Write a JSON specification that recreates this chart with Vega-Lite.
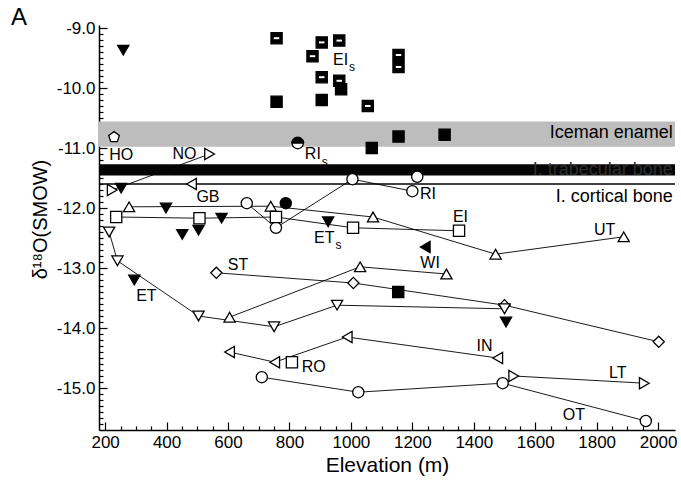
{
  "$schema": "https://vega.github.io/schema/vega-lite/v6.json",
  "width": 576,
  "height": 405,
  "autosize": {"type": "none"},
  "padding": {"left": 99, "top": 25, "right": 6, "bottom": 52},
  "background": "white",
  "config": {
    "view": {"stroke": null},
    "font": "Liberation Sans",
    "axis": {"labelFont": "Liberation Sans", "titleFont": "Liberation Sans"}
  },
  "title": {
    "text": "A", "anchor": "start", "frame": "group", "fontSize": 24,
    "fontWeight": "normal", "font": "Liberation Sans", "color": "black",
    "dx": -88, "offset": -9, "dy": 21, "baseline": "alphabetic"
  },
  "datasets": {
    "bands": [
      {"band": "enamel", "x": 180, "x2": 2055, "y": -10.98, "y2": -10.56},
      {"band": "trabecular", "x": 180, "x2": 2055, "y": -11.46, "y2": -11.27}
    ],
    "rules": [{"name": "cortical", "x": 180, "x2": 2055, "y": -11.6}],
    "pts": [
      {"site": "NO", "sym": "right", "fill": "open", "x": 223, "y": -11.70},
      {"site": "NO", "sym": "right", "fill": "open", "x": 540, "y": -11.10},
      {"site": "RI", "sym": "circle", "fill": "open", "x": 661, "y": -11.92},
      {"site": "RI", "sym": "circle", "fill": "open", "x": 756, "y": -12.33},
      {"site": "RI", "sym": "circle", "fill": "open", "x": 1005, "y": -11.52},
      {"site": "RI", "sym": "circle", "fill": "open", "x": 1200, "y": -11.72},
      {"site": "UT", "sym": "up", "fill": "open", "x": 278, "y": -11.98},
      {"site": "UT", "sym": "up", "fill": "open", "x": 739, "y": -11.97},
      {"site": "UT", "sym": "up", "fill": "open", "x": 1072, "y": -12.15},
      {"site": "UT", "sym": "up", "fill": "open", "x": 1471, "y": -12.77},
      {"site": "UT", "sym": "up", "fill": "open", "x": 1888, "y": -12.48},
      {"site": "EI", "sym": "square", "fill": "open", "x": 236, "y": -12.15},
      {"site": "EI", "sym": "square", "fill": "open", "x": 507, "y": -12.17},
      {"site": "EI", "sym": "square", "fill": "open", "x": 756, "y": -12.15},
      {"site": "EI", "sym": "square", "fill": "open", "x": 1007, "y": -12.33},
      {"site": "EI", "sym": "square", "fill": "open", "x": 1352, "y": -12.38},
      {"site": "WI", "sym": "up", "fill": "open", "x": 605, "y": -13.82},
      {"site": "WI", "sym": "up", "fill": "open", "x": 1030, "y": -12.98},
      {"site": "WI", "sym": "up", "fill": "open", "x": 1311, "y": -13.10},
      {"site": "ST", "sym": "diamond", "fill": "open", "x": 562, "y": -13.08},
      {"site": "ST", "sym": "diamond", "fill": "open", "x": 1008, "y": -13.25},
      {"site": "ST", "sym": "diamond", "fill": "open", "x": 1500, "y": -13.62},
      {"site": "ST", "sym": "diamond", "fill": "open", "x": 2002, "y": -14.23},
      {"site": "ET", "sym": "down", "fill": "open", "x": 213, "y": -12.40},
      {"site": "ET", "sym": "down", "fill": "open", "x": 240, "y": -12.88},
      {"site": "ET", "sym": "down", "fill": "open", "x": 504, "y": -13.80},
      {"site": "ET", "sym": "down", "fill": "open", "x": 750, "y": -13.98},
      {"site": "ET", "sym": "down", "fill": "open", "x": 955, "y": -13.62},
      {"site": "ET", "sym": "down", "fill": "open", "x": 1500, "y": -13.68},
      {"site": "IN", "sym": "left", "fill": "open", "x": 605, "y": -14.40},
      {"site": "IN", "sym": "left", "fill": "open", "x": 752, "y": -14.57},
      {"site": "IN", "sym": "left", "fill": "open", "x": 988, "y": -14.15},
      {"site": "IN", "sym": "left", "fill": "open", "x": 1478, "y": -14.50},
      {"site": "OT", "sym": "circle", "fill": "open", "x": 710, "y": -14.82},
      {"site": "OT", "sym": "circle", "fill": "open", "x": 1024, "y": -15.07},
      {"site": "OT", "sym": "circle", "fill": "open", "x": 1494, "y": -14.92},
      {"site": "OT", "sym": "circle", "fill": "open", "x": 1960, "y": -15.55},
      {"site": "LT", "sym": "right", "fill": "open", "x": 1530, "y": -14.80},
      {"site": "LT", "sym": "right", "fill": "open", "x": 1955, "y": -14.92},
      {"site": "ETs", "sym": "down", "fill": "solid", "x": 259, "y": -9.37},
      {"site": "ETs", "sym": "down", "fill": "solid", "x": 252, "y": -11.67},
      {"site": "ETs", "sym": "down", "fill": "solid", "x": 398, "y": -12.00},
      {"site": "ETs", "sym": "down", "fill": "solid", "x": 451, "y": -12.44},
      {"site": "ETs", "sym": "down", "fill": "solid", "x": 504, "y": -12.37},
      {"site": "ETs", "sym": "down", "fill": "solid", "x": 579, "y": -12.17},
      {"site": "ETs", "sym": "down", "fill": "solid", "x": 926, "y": -12.23},
      {"site": "ETs", "sym": "down", "fill": "solid", "x": 295, "y": -13.20},
      {"site": "ETs", "sym": "down", "fill": "solid", "x": 1505, "y": -13.90},
      {"site": "EIs", "sym": "sqdash", "fill": "solid", "x": 758, "y": -9.17},
      {"site": "EIs", "sym": "sqdash", "fill": "solid", "x": 905, "y": -9.24},
      {"site": "EIs", "sym": "sqdash", "fill": "solid", "x": 962, "y": -9.21},
      {"site": "EIs", "sym": "sqdash", "fill": "solid", "x": 875, "y": -9.47},
      {"site": "EIs", "sym": "sqdash", "fill": "solid", "x": 905, "y": -9.82},
      {"site": "EIs", "sym": "square", "fill": "solid", "x": 968, "y": -10.02},
      {"site": "EIs", "sym": "sqdash", "fill": "solid", "x": 962, "y": -9.88},
      {"site": "EIs", "sym": "sqdash", "fill": "solid", "x": 1055, "y": -10.30},
      {"site": "EIs", "sym": "sqdash", "fill": "solid", "x": 1155, "y": -9.45},
      {"site": "EIs", "sym": "sqdash", "fill": "solid", "x": 1155, "y": -9.65},
      {"site": "EIs", "sym": "square", "fill": "solid", "x": 758, "y": -10.23},
      {"site": "EIs", "sym": "square", "fill": "solid", "x": 905, "y": -10.20},
      {"site": "EIs", "sym": "square", "fill": "solid", "x": 1155, "y": -10.81},
      {"site": "EIs", "sym": "square", "fill": "solid", "x": 1305, "y": -10.78},
      {"site": "EIs", "sym": "square", "fill": "solid", "x": 1068, "y": -11.00},
      {"site": "HO", "sym": "pentagon", "fill": "open", "x": 229, "y": -10.82},
      {"site": "RIs", "sym": "half", "fill": "open", "x": 827, "y": -10.92},
      {"site": "GB", "sym": "left", "fill": "open", "x": 481, "y": -11.60},
      {"site": "RO", "sym": "square", "fill": "open", "x": 808, "y": -14.57},
      {"site": "WIs", "sym": "left", "fill": "solid", "x": 1242, "y": -12.65},
      {"site": "other", "sym": "circle", "fill": "solid", "x": 788, "y": -11.92},
      {"site": "other", "sym": "square", "fill": "solid", "x": 1154, "y": -13.40},
      {"site": "RIb", "sym": "circle", "fill": "open", "x": 1216, "y": -11.48}
    ],
    "labels": [
      {"text": "HO", "x": 213, "y": -11.12},
      {"text": "NO", "x": 419, "y": -11.10},
      {"text": "GB", "x": 497, "y": -11.82},
      {"text": "RI", "x": 850, "y": -11.10},
      {"text": "EI", "x": 942, "y": -9.53},
      {"text": "RI", "x": 1225, "y": -11.76},
      {"text": "EI", "x": 1332, "y": -12.15},
      {"text": "UT", "x": 1791, "y": -12.37},
      {"text": "ET", "x": 880, "y": -12.50},
      {"text": "WI", "x": 1226, "y": -12.92},
      {"text": "ST", "x": 599, "y": -12.95},
      {"text": "ET", "x": 301, "y": -13.47},
      {"text": "RO", "x": 840, "y": -14.65},
      {"text": "IN", "x": 1409, "y": -14.30},
      {"text": "LT", "x": 1840, "y": -14.75},
      {"text": "OT", "x": 1690, "y": -15.45}
    ],
    "subs": [
      {"text": "s", "x": 905, "y": -11.23},
      {"text": "s", "x": 994, "y": -9.65},
      {"text": "s", "x": 950, "y": -12.62}
    ],
    "bandlabels": [
      {"text": "Iceman enamel", "x": 2048, "y": -10.75},
      {"text": "I. trabecular bone", "x": 2048, "y": -11.37},
      {"text": "I. cortical bone", "x": 2048, "y": -11.82}
    ]
  },
  "encoding": {
    "x": {
      "field": "x", "type": "quantitative",
      "scale": {"domain": [180, 2055], "nice": false, "zero": false},
      "axis": {
        "title": "Elevation (m)",
        "values": [200,250,300,350,400,450,500,550,600,650,700,750,800,850,900,950,1000,1050,1100,1150,1200,1250,1300,1350,1400,1450,1500,1550,1600,1650,1700,1750,1800,1850,1900,1950,2000],
        "labelExpr": "datum.value % 200 === 0 ? datum.value : ''",
        "tickSize": -8,
        "tickDash": {"condition": {"test": "datum.value % 200 === 0", "value": [12, 1]}, "value": [4, 12]},
        "labelPadding": 12,
        "grid": false, "domainColor": "black", "domainWidth": 1.5,
        "tickColor": "black", "tickWidth": 1.2,
        "labelFontSize": 17, "labelColor": "black", "labelOverlap": false, "labelFlush": false,
        "titleFontSize": 21, "titleFontWeight": "normal", "titleColor": "black", "titlePadding": 4
      }
    },
    "y": {
      "field": "y", "type": "quantitative",
      "scale": {"domain": [-15.7, -8.95], "nice": false, "zero": false},
      "axis": {
        "title": "δ¹⁸O(SMOW)",
        "values": [-9,-9.1,-9.2,-9.3,-9.4,-9.5,-9.6,-9.7,-9.8,-9.9,-10,-10.1,-10.2,-10.3,-10.4,-10.5,-10.6,-10.7,-10.8,-10.9,-11,-11.1,-11.2,-11.3,-11.4,-11.5,-11.6,-11.7,-11.8,-11.9,-12,-12.1,-12.2,-12.3,-12.4,-12.5,-12.6,-12.7,-12.8,-12.9,-13,-13.1,-13.2,-13.3,-13.4,-13.5,-13.6,-13.7,-13.8,-13.9,-14,-14.1,-14.2,-14.3,-14.4,-14.5,-14.6,-14.7,-14.8,-14.9,-15,-15.1,-15.2,-15.3,-15.4,-15.5,-15.6],
        "labelExpr": "abs(datum.value - round(datum.value)) < 0.01 ? '-' + format(abs(datum.value), '.1f') : ''",
        "tickSize": -8,
        "tickDash": {"condition": {"test": "abs(datum.value - round(datum.value)) < 0.01", "value": [12, 1]}, "value": [4, 12]},
        "labelPadding": 12,
        "grid": false, "domainColor": "black", "domainWidth": 1.5,
        "tickColor": "black", "tickWidth": 1.2,
        "labelFontSize": 17, "labelColor": "black", "labelOverlap": false, "labelFlush": false,
        "titleFontSize": 20, "titleFontWeight": "normal", "titleColor": "black", "titlePadding": 6, "titleY": 194
      }
    }
  },
  "layer": [
    {
      "data": {"name": "bands"},
      "mark": {"type": "rect"},
      "encoding": {
        "x2": {"field": "x2"},
        "y2": {"field": "y2"},
        "fill": {"field": "band", "type": "nominal", "scale": {"domain": ["enamel", "trabecular"], "range": ["#bdbdbd", "#050505"]}, "legend": null}
      }
    },
    {
      "data": {"name": "rules"},
      "mark": {"type": "rule", "color": "black", "strokeWidth": 1.6},
      "encoding": {"x2": {"field": "x2"}}
    },
    {
      "data": {"name": "pts"},
      "transform": [{"filter": "indexof(['NO','RI','UT','EI','WI','ST','ET','IN','OT','LT'], datum.site) >= 0"}],
      "mark": {"type": "line", "color": "black", "strokeWidth": 0.9},
      "encoding": {
        "detail": {"field": "site"},
        "order": {"field": "x", "type": "quantitative"}
      }
    },
    {
      "data": {"name": "pts"},
      "mark": {"type": "point", "filled": true, "stroke": "black", "strokeWidth": 1.3, "opacity": 1},
      "encoding": {
        "shape": {
          "field": "sym", "type": "nominal", "legend": null,
          "scale": {
            "domain": ["circle", "half", "square", "sqdash", "up", "down", "left", "right", "diamond", "pentagon"],
            "range": ["circle", "circle", "square", "square", "triangle-up", "triangle-down", "triangle-left", "triangle-right", "diamond", "M0,-1L0.951,-0.309L0.588,0.809L-0.588,0.809L-0.951,-0.309Z"]
          }
        },
        "size": {
          "field": "sym", "type": "ordinal", "legend": null,
          "scale": {
            "domain": ["circle", "half", "square", "sqdash", "up", "down", "left", "right", "diamond", "pentagon"],
            "range": [125, 125, 140, 140, 170, 170, 170, 170, 220, 160]
          }
        },
        "fill": {"field": "fill", "type": "nominal", "legend": null, "scale": {"domain": ["open", "solid"], "range": ["white", "black"]}}
      }
    },
    {
      "data": {"name": "pts"},
      "transform": [{"filter": "datum.sym === 'sqdash'"}],
      "mark": {"type": "point", "shape": "M-1,0L1,0", "filled": false, "stroke": "white", "strokeWidth": 2, "size": 30, "opacity": 1}
    },
    {
      "data": {"name": "pts"},
      "transform": [{"filter": "datum.sym === 'half'"}],
      "mark": {"type": "point", "shape": "M-1,0A1,1,0,0,1,1,0Z", "filled": true, "fill": "black", "stroke": "black", "strokeWidth": 1, "size": 150, "opacity": 1}
    },
    {
      "data": {"name": "labels"},
      "mark": {"type": "text", "align": "left", "baseline": "middle", "fontSize": 16, "font": "Liberation Sans", "color": "black"},
      "encoding": {"text": {"field": "text"}}
    },
    {
      "data": {"name": "subs"},
      "mark": {"type": "text", "align": "left", "baseline": "middle", "fontSize": 12, "font": "Liberation Sans", "color": "black"},
      "encoding": {"text": {"field": "text"}}
    },
    {
      "data": {"name": "bandlabels"},
      "mark": {"type": "text", "align": "right", "baseline": "middle", "fontSize": 18, "font": "Liberation Sans"},
      "encoding": {
        "text": {"field": "text"},
        "color": {"field": "text", "type": "nominal", "legend": null, "scale": {"domain": ["Iceman enamel", "I. trabecular bone", "I. cortical bone"], "range": ["black", "#2e2e2e", "black"]}}
      }
    }
  ],
  "resolve": {"scale": {"fill": "independent", "color": "independent"}}
}
